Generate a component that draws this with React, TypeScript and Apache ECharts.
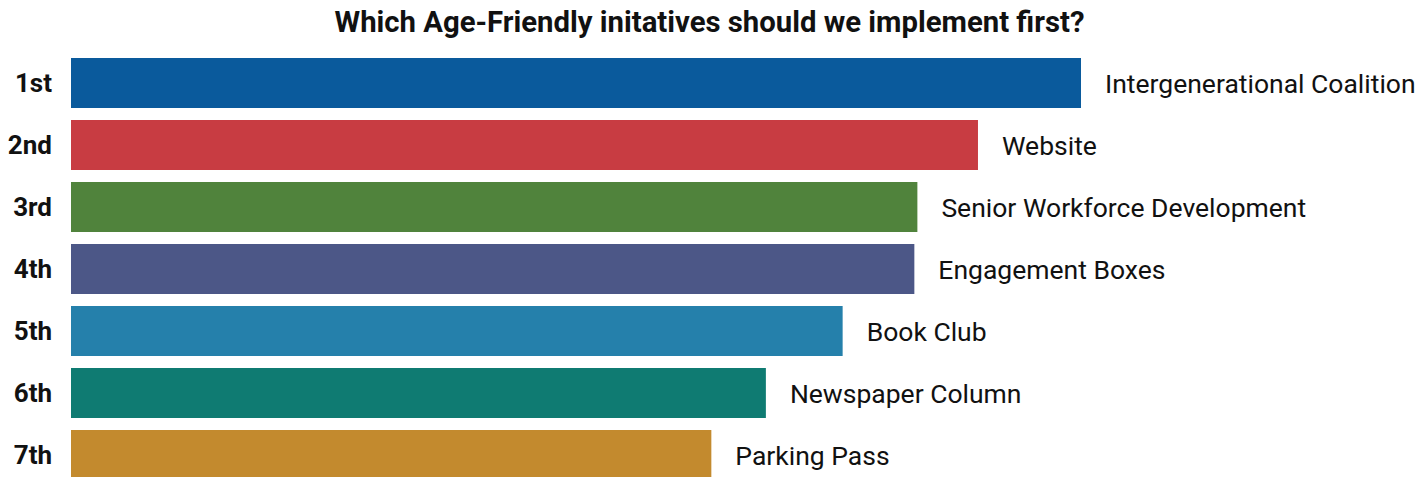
import React, { useEffect, useRef } from "react";
import * as echarts from "echarts";

const ranks = ["1st", "2nd", "3rd", "4th", "5th", "6th", "7th"];
const initiatives = [
  "Intergenerational Coalition",
  "Website",
  "Senior Workforce Development",
  "Engagement Boxes",
  "Book Club",
  "Newspaper Column",
  "Parking Pass",
];
const scores = [100, 89.8, 83.8, 83.5, 76.4, 68.8, 63.4];
const colors = ["#0a5a9c", "#c83c42", "#50833c", "#4c5787", "#2580ab", "#0f7b72", "#c38a2e"];

export default function App() {
  const ref = useRef<HTMLDivElement>(null);
  useEffect(() => {
    const chart = echarts.init(ref.current!, undefined, { renderer: "svg" });
    chart.setOption({
      animation: false,
      title: {
        text: "Which Age-Friendly initatives should we implement first?",
        left: "center",
        top: 2,
        textStyle: { fontFamily: "Roboto", fontWeight: "bold", fontSize: 29.3, color: "#111" },
      },
      grid: { left: 71, top: 52, width: 1010, height: 434, containLabel: false },
      xAxis: { type: "value", min: 0, max: 100, show: false },
      yAxis: {
        type: "category",
        inverse: true,
        data: ranks,
        axisLine: { show: false },
        axisTick: { show: false },
        axisLabel: {
          margin: 19,
          fontFamily: "Roboto",
          fontWeight: "bold",
          fontSize: 26,
          color: "#111",
        },
      },
      series: [
        {
          type: "bar",
          barWidth: 50,
          data: scores.map((v, i) => ({ value: v, itemStyle: { color: colors[i] } })),
          label: {
            show: true,
            position: "right",
            distance: 24,
            formatter: (p: any) => initiatives[p.dataIndex],
            fontFamily: "Roboto",
            fontSize: 26.5,
            color: "#111",
          },
        },
      ],
    });
    return () => chart.dispose();
  }, []);
  return (
    <div
      ref={ref}
      style={{ position: "fixed", left: 0, top: 0, width: 1419, height: 500, background: "#fff" }}
    />
  );
}
